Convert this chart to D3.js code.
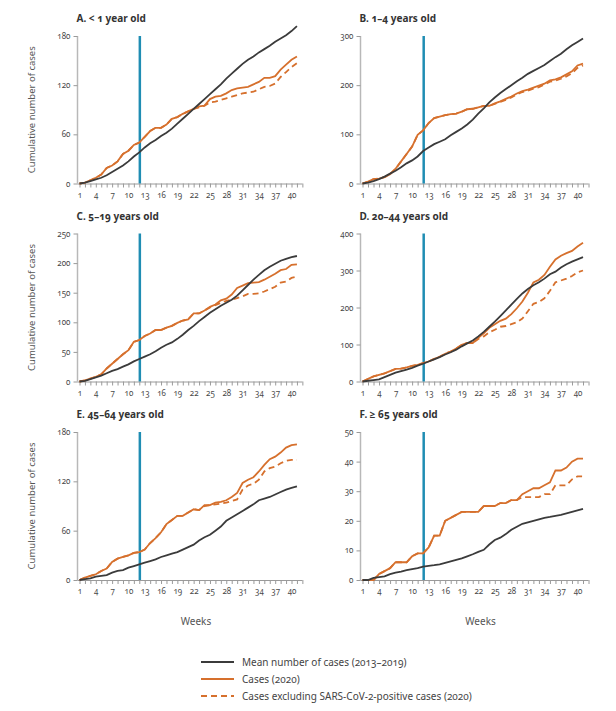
<!DOCTYPE html>
<html>
<head>
<meta charset="utf-8">
<script src="https://cdn.jsdelivr.net/npm/d3@7"></script>
<style>
  html, body { margin: 0; padding: 0; background: #fff; }
  svg { display: block; font-family: "Noto Sans", "Open Sans", sans-serif; font-feature-settings: "onum"; }
</style>
</head>
<body>
<svg id="chart" width="616" height="711"></svg>
<script>
// ---- Data ----
const weeks = d3.range(1, 42); // weeks 1..41
const xTickLabels = [1, 4, 7, 10, 13, 16, 19, 22, 25, 28, 31, 34, 37, 40];
const covidWeek = 12.1;

const titles = ["A. < 1 year old", "B.  1–4 years old", "C.  5–19 years old", "D.  20–44 years old", "E.  45–64 years old", "F.  ≥ 65 years old"];
const yTicksA = [0, 60, 120, 180];
const yTicksB = [0, 100, 200, 300];
const yTicksC = [0, 50, 100, 150, 200, 250];
const yTicksD = [0, 100, 200, 300, 400];
const yTicksE = [0, 60, 120, 180];
const yTicksF = [0, 10, 20, 30, 40, 50];

const meanA = [0,1,3,5,7,10,14,18,22,27,33,38,44,49,53,58,62,67,73,79,85,91,97,103,109,115,121,128,134,140,146,151,155,160,164,168,173,177,181,186,192];
const casesA = [0,1,4,7,11,19,22,27,36,40,47,50,57,64,68,68,72,79,81,85,88,91,94,95,103,106,107,110,114,116,117,118,121,124,129,129,131,139,145,151,155];
const exclA = [0,1,4,7,11,19,22,27,36,40,47,50,57,64,68,68,72,79,81,85,88,91,93,95,99,100,102,104,106,108,110,111,112,115,118,119,122,130,136,142,147];

const meanB = [0,2,5,9,14,20,26,33,41,47,55,66,73,80,85,90,98,105,112,120,130,142,153,165,175,184,192,200,208,215,223,229,235,241,249,257,264,273,281,288,295];
const casesB = [0,4,9,10,13,19,30,45,60,75,99,108,123,133,136,139,141,142,146,151,152,155,158,158,163,167,172,177,183,188,191,195,199,203,210,212,216,222,228,240,244];
const exclB = [0,4,9,10,13,19,30,45,60,75,99,108,123,133,136,139,141,142,146,151,152,155,158,158,162,166,170,175,181,186,189,193,196,201,207,209,213,218,224,235,240];

const meanC = [0,1,4,7,10,14,18,21,25,29,34,38,42,46,51,57,62,66,72,79,87,94,102,109,116,122,128,133,138,145,154,163,172,180,188,194,199,204,207,210,212];
const casesC = [0,2,5,8,12,22,30,38,46,53,67,70,77,81,87,87,91,94,99,103,105,115,115,120,126,130,137,140,147,158,162,166,167,168,172,177,182,188,190,197,198];
const exclC = [0,2,5,8,12,22,30,38,46,53,67,70,77,81,87,87,91,94,99,103,105,115,115,120,125,129,133,136,138,141,144,148,148,149,152,156,160,167,169,175,177];

const meanD = [0,2,4,6,12,18,24,28,32,37,43,48,54,60,66,73,79,86,95,103,111,122,134,148,162,177,192,208,223,238,250,260,268,278,290,297,308,317,324,330,336];
const casesD = [0,7,14,18,22,28,34,35,38,42,45,50,54,61,67,75,81,89,99,104,104,118,130,145,155,164,170,182,198,216,240,268,275,288,310,330,340,347,353,365,375];
const exclD = [0,7,14,18,22,28,34,35,38,42,45,50,54,61,67,75,81,89,99,104,104,115,122,133,140,148,150,155,160,170,190,210,215,225,245,268,273,278,285,295,300];

const meanE = [0,1,2,4,5,6,9,11,12,15,17,19,21,23,25,28,30,32,34,37,40,43,48,52,55,60,65,72,76,80,84,88,92,97,99,101,104,107,110,112,114];
const casesE = [0,3,5,7,11,14,22,26,28,30,33,34,37,45,51,58,68,73,78,78,82,86,85,91,91,94,95,97,101,106,118,122,125,132,140,147,150,155,161,164,165];
const exclE = [0,3,5,7,11,14,22,26,28,30,33,34,37,45,51,58,68,73,78,78,82,86,85,90,91,92,93,94,96,98,110,115,117,122,132,136,138,142,145,146,146];

const meanF = [0,0,0.7,1,1.2,2,2.5,2.8,3.3,3.7,4,4.5,4.8,5,5.3,5.8,6.3,6.8,7.3,8,8.7,9.5,10.2,12,13.5,14.3,15.5,17,18,19,19.5,20,20.5,21,21.3,21.7,22,22.5,23,23.5,24];
const casesF = [0,0,0,2,3,4,6,6,6,8,9,9,11,15,15,20,21,22,23,23,23,23,25,25,25,26,26,27,27,29,30,31,31,32,33,37,37,38,40,41,41];
const exclF = [0,0,0,2,3,4,6,6,6,8,9,9,11,15,15,20,21,22,23,23,23,23,25,25,25,26,26,27,27,28,28,28,28,29,29,32,32,32,34,35,35];

const legendLabels = ["Mean number of cases (2013–2019)", "Cases (2020)", "Cases excluding SARS-CoV-2-positive cases (2020)"];

// ---- Styles ----
const C_MEAN = "#3b3b3b", C_CASES = "#d6702d", C_BLUE = "#1f8db3";
const C_TEXT = "#4a4a4a", C_AXIS = "#9a9a9a";

const panels = [
  { title: titles[0], ticks: yTicksA, mean: meanA, cases: casesA, excl: exclA, col: 0, row: 0 },
  { title: titles[1], ticks: yTicksB, mean: meanB, cases: casesB, excl: exclB, col: 1, row: 0 },
  { title: titles[2], ticks: yTicksC, mean: meanC, cases: casesC, excl: exclC, col: 0, row: 1 },
  { title: titles[3], ticks: yTicksD, mean: meanD, cases: casesD, excl: exclD, col: 1, row: 1 },
  { title: titles[4], ticks: yTicksE, mean: meanE, cases: casesE, excl: exclE, col: 0, row: 2 },
  { title: titles[5], ticks: yTicksF, mean: meanF, cases: casesF, excl: exclF, col: 1, row: 2 },
];

const colLayout = [
  { axisX: 77.5, x1: 79.5, x40: 291.5 },
  { axisX: 360.5, x1: 362.5, x40: 577.5 },
];
const rowLayout = [
  { top: 36, bottom: 183.5 },
  { top: 233.5, bottom: 381.5 },
  { top: 432, bottom: 580 },
];

const svg = d3.select("#chart");

panels.forEach(p => {
  const cl = colLayout[p.col], rl = rowLayout[p.row];
  const yMax = p.ticks[p.ticks.length - 1];
  const x = d3.scaleLinear().domain([1, 40]).range([cl.x1, cl.x40]);
  const y = d3.scaleLinear().domain([0, yMax]).range([rl.bottom, rl.top]);
  const g = svg.append("g");

  // title
  g.append("text")
    .attr("x", cl.axisX - 1).attr("y", rl.top - 14)
    .attr("font-size", 10).attr("font-weight", 700).attr("fill", "#333")
    .text(p.title);

  // x axis
  const xAxis = d3.axisBottom(x)
    .tickValues(d3.range(1, 43))
    .tickSize(4)
    .tickFormat(d => xTickLabels.includes(d) ? d : "");
  const xg = g.append("g").attr("transform", `translate(0,${rl.bottom})`).call(xAxis);
  xg.select(".domain").attr("d", `M${cl.axisX},0.5H${x(42)}`).attr("stroke", C_AXIS);
  xg.selectAll(".tick line").attr("stroke", C_AXIS);
  xg.selectAll(".tick text").attr("fill", C_TEXT).attr("font-size", 8).attr("dy", "0.9em")
    .attr("font-family", "Noto Sans, sans-serif");

  // y axis
  const yAxis = d3.axisLeft(y).tickValues(p.ticks).tickSize(4).tickPadding(3);
  const yg = g.append("g").attr("transform", `translate(${cl.axisX},0)`).call(yAxis);
  yg.select(".domain").attr("d", `M0,${rl.top}V${rl.bottom}`).attr("stroke", "#b8b8b8").attr("stroke-width", 1.5);
  yg.selectAll(".tick line").attr("stroke", C_AXIS);
  yg.selectAll(".tick text").attr("fill", C_TEXT).attr("font-size", 8)
    .attr("font-family", "Noto Sans, sans-serif");

  // y label
  if (p.col === 0) {
    g.append("text")
      .attr("transform", `translate(35,${(rl.top + rl.bottom) / 2}) rotate(-90)`)
      .attr("text-anchor", "middle")
      .attr("font-size", 9.5).attr("fill", "#555")
      .text("Cumulative number of cases");
  }
  // x label
  if (p.row === 2) {
    g.append("text")
      .attr("x", (cl.axisX + x(42)) / 2 + 6).attr("y", 625)
      .attr("text-anchor", "middle")
      .attr("font-size", 10).attr("fill", "#555")
      .text("Weeks");
  }

  const line = d3.line().x((d, i) => x(weeks[i])).y(d => y(d));

  // covid line
  g.append("line")
    .attr("x1", x(covidWeek)).attr("x2", x(covidWeek))
    .attr("y1", y(yMax)).attr("y2", rl.bottom)
    .attr("stroke", C_BLUE).attr("stroke-width", 2.5);

  g.append("path").datum(p.excl).attr("d", line)
    .attr("fill", "none").attr("stroke", C_CASES).attr("stroke-width", 1.8)
    .attr("stroke-dasharray", "6,4");
  g.append("path").datum(p.cases).attr("d", line)
    .attr("fill", "none").attr("stroke", C_CASES).attr("stroke-width", 1.8);
  g.append("path").datum(p.mean).attr("d", line)
    .attr("fill", "none").attr("stroke", C_MEAN).attr("stroke-width", 1.8);
});

// legend
const legendStyles = [
  { color: C_MEAN, dash: null },
  { color: C_CASES, dash: null },
  { color: C_CASES, dash: "6,4" },
];
const lg = svg.append("g");
legendLabels.forEach((lab, i) => {
  const yy = 662 + i * 17;
  lg.append("line").attr("x1", 201).attr("x2", 234).attr("y1", yy).attr("y2", yy)
    .attr("stroke", legendStyles[i].color).attr("stroke-width", 1.8)
    .attr("stroke-dasharray", legendStyles[i].dash);
  lg.append("text").attr("x", 242).attr("y", yy + 3.5)
    .attr("font-size", 10).attr("fill", "#444").text(lab);
});
</script>
</body>
</html>
